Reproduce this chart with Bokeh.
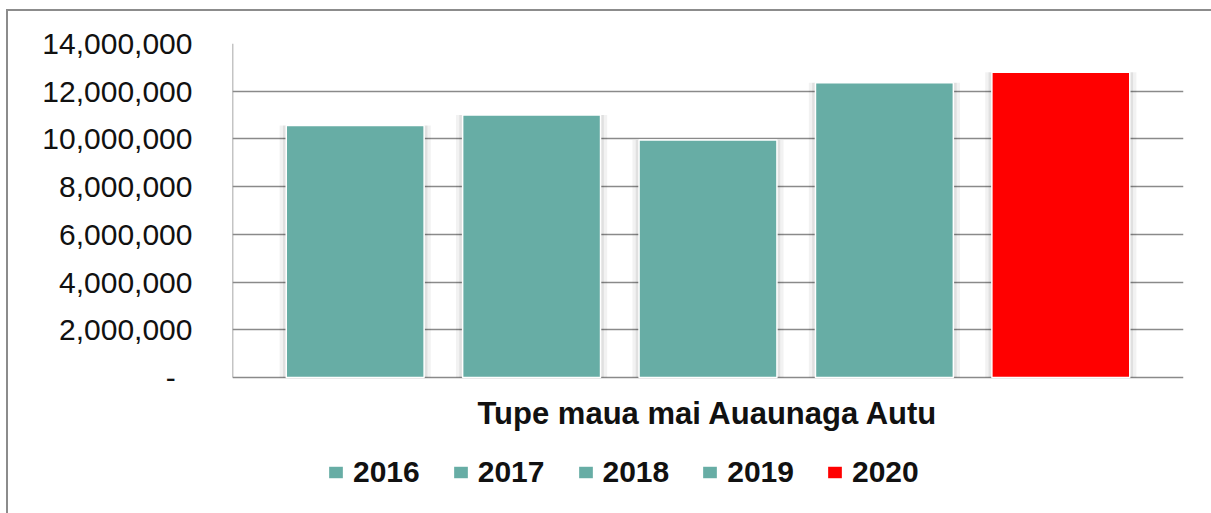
from bokeh.plotting import figure
from bokeh.models import (FactorRange, Range1d, ColumnDataSource, CustomJSTickFormatter,
                          FixedTicker, Legend, LegendItem)
from bokeh.core.properties import value
from bokeh.transform import dodge
from bokeh.embed import file_html
from bokeh.resources import INLINE

# ---- data ----
category = ["Tupe maua mai Auaunaga Autu"]
years = ["2016", "2017", "2018", "2019", "2020"]
values = [10560000, 11000000, 9960000, 12350000, 12800000]
y_ticks = [0, 2000000, 4000000, 6000000, 8000000, 10000000, 12000000, 14000000]

# ---- styles / layout ----
bar_colors = ["#67ADA5", "#67ADA5", "#67ADA5", "#67ADA5", "#FF0000"]
FONT = "Liberation Sans"
GRID = "#8a8a8a"
Y_MAX = 14000000
Y_MIN = -5366000          # room below zero for the category label and the legend
LABEL_Y = -1510000        # vertical place of the category label

p = figure(width=1203, height=502, frame_width=951, frame_height=462,
           output_backend="svg", toolbar_location=None,
           x_range=FactorRange(*category, range_padding=0),
           y_range=Range1d(Y_MIN, Y_MAX),
           min_border_left=224, min_border_right=28, min_border_top=32,
           min_border_bottom=8)
p.styles = {"margin-left": "6px", "margin-top": "9px",
            "border-top": "2px solid #8c8c8c", "border-left": "2px solid #8c8c8c"}
p.outline_line_color = None
p.background_fill_color = "white"
p.border_fill_color = "white"

spacing = 0.1855
bw = 0.145
items = []
for i, (yr, v, c) in enumerate(zip(years, values, bar_colors)):
    src = ColumnDataSource(dict(cat=category, val=[v]))
    off = (i - 2) * spacing
    xx = dodge("cat", off, range=p.x_range)
    p.vbar(x=xx, top="val", bottom=0, width=bw + 0.014, source=src,
           fill_color="black", fill_alpha=0.05, line_color=None)
    p.vbar(x=xx, top="val", bottom=0, width=bw + 0.007, source=src,
           fill_color="black", fill_alpha=0.07, line_color=None)
    r = p.vbar(x=xx, top="val", bottom=0, width=bw, source=src,
               fill_color=c, line_color="white", line_width=1.5)
    items.append(LegendItem(label=yr, renderers=[r]))

# value-axis line (left edge of the category range, from 0 to the top tick)
axis_src = ColumnDataSource(dict(cat=category, y0=[y_ticks[0]], y1=[y_ticks[-1]]))
p.segment(x0=dodge("cat", -0.5, range=p.x_range), y0="y0",
          x1=dodge("cat", -0.5, range=p.x_range), y1="y1",
          source=axis_src, line_color=GRID, line_width=1.5)

# category label
cat_src = ColumnDataSource(dict(cat=category, y=[LABEL_Y]))
p.text(x="cat", y="y", text="cat", source=cat_src, text_align="center",
       text_baseline="middle", text_font=value(FONT), text_font_size="31px",
       text_font_style="bold", text_color="#111111")

# y axis
p.yaxis.ticker = FixedTicker(ticks=y_ticks)
p.yaxis.formatter = CustomJSTickFormatter(code="""
    if (tick == 0) { return "-\u00a0\u00a0"; }
    return tick.toLocaleString("en-US");
""")
p.yaxis.major_label_text_font = FONT
p.yaxis.major_label_text_font_size = "30px"
p.yaxis.major_label_text_color = "#111111"
p.yaxis.major_label_standoff = 34
p.yaxis.major_tick_line_color = None
p.yaxis.minor_tick_line_color = None
p.yaxis.axis_line_color = None

p.xaxis.visible = False
p.xgrid.grid_line_color = None
p.ygrid.ticker = FixedTicker(ticks=y_ticks)
p.ygrid.grid_line_color = GRID
p.ygrid.grid_line_width = 1.5

legend = Legend(items=items, orientation="horizontal", location=(94, 16),
                label_text_font=FONT, label_text_font_size="30px",
                label_text_font_style="bold", label_text_color="#111111",
                glyph_width=19, glyph_height=16, label_standoff=8,
                spacing=31, padding=0, margin=0, border_line_color=None,
                background_fill_alpha=0)
p.add_layout(legend, "center")

open("out.html", "w").write(file_html(p, INLINE))
